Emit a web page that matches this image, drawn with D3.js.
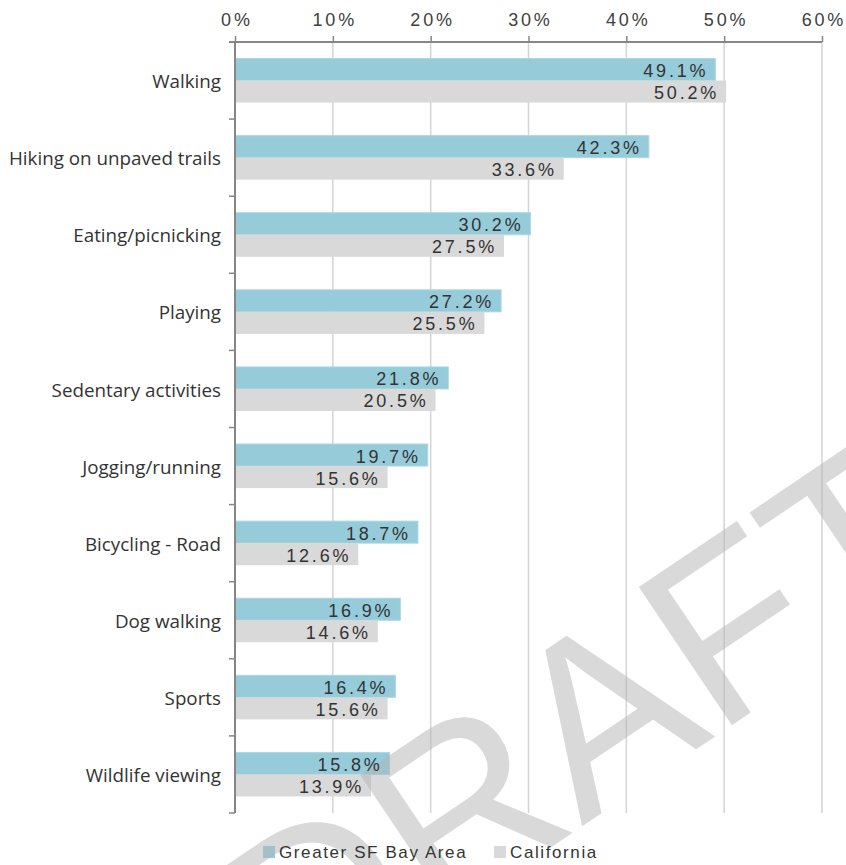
<!DOCTYPE html>
<meta charset="utf-8">
<head>
  <title>Park activities</title>
  <script src="https://cdn.jsdelivr.net/npm/d3@7"></script>
  <style>
    body { margin: 0; background: #fff; }
    .cat { font-family: "Open Sans", sans-serif; font-size: 18.8px; fill: #333; }
    .num { font-family: "Liberation Sans", sans-serif; font-size: 18px; fill: #333; letter-spacing: 2.8px; }
    .leg { font-family: "Liberation Sans", sans-serif; font-size: 17px; fill: #333; letter-spacing: 1.6px; }
  </style>
</head>
<body>
<div id="chart"></div>
<script>
  // data
  var activities = ["Walking", "Hiking on unpaved trails", "Eating/picnicking", "Playing",
    "Sedentary activities", "Jogging/running", "Bicycling - Road", "Dog walking", "Sports", "Wildlife viewing"];
  var bayArea = [49.1, 42.3, 30.2, 27.2, 21.8, 19.7, 18.7, 16.9, 16.4, 15.8];
  var california = [50.2, 33.6, 27.5, 25.5, 20.5, 15.6, 12.6, 14.6, 15.6, 13.9];
  var seriesNames = ["Greater SF Bay Area", "California"];
  var tickValues = [0, 10, 20, 30, 40, 50, 60];

  var W = 846, H = 865;
  var m = {left: 235, right: 822, top: 42, bottom: 813};

  var svg = d3.select("#chart").append("svg")
    .attr("width", W).attr("height", H);

  var x = d3.scaleLinear().domain([0, 60]).range([m.left, m.right]);
  var y = d3.scaleBand().domain(activities).range([m.top, m.bottom]).padding(0);
  var ySub = d3.scaleBand().domain([0, 1]).range([0, y.bandwidth()])
    .paddingInner(0).paddingOuter(0.75);
  var colors = ["#96cbda", "#d9d9d9"];

  var rows = activities.map((a, i) => ({ name: a, vals: [bayArea[i], california[i]] }));
  var pairs = d => d.vals.map((v, k) => ({ v: v, k: k }));

  // gridlines
  svg.append("g").selectAll("line")
    .data(tickValues.slice(1))
    .enter().append("line")
    .attr("x1", d => x(d)).attr("x2", d => x(d))
    .attr("y1", m.top).attr("y2", m.bottom)
    .attr("stroke", "#d4d4d4").attr("stroke-width", 1.5);

  // bars
  svg.append("g").selectAll("g")
    .data(rows).enter().append("g")
    .attr("transform", d => "translate(0," + y(d.name) + ")")
    .selectAll("rect")
    .data(pairs)
    .enter().append("rect")
    .attr("x", x(0))
    .attr("y", d => ySub(d.k))
    .attr("width", d => x(d.v) - x(0))
    .attr("height", ySub.bandwidth())
    .attr("fill", d => colors[d.k])
    .attr("stroke", d => d.k == 0 ? "#aad8e5" : "none")
    .attr("stroke-width", 1);

  // legend swatches
  var legend = svg.append("g").attr("transform", "translate(263,846)");
  var legX = [0, 231];
  legend.selectAll("rect").data(seriesNames).enter().append("rect")
    .attr("x", (d, i) => legX[i]).attr("y", 0).attr("width", 12).attr("height", 12)
    .attr("fill", (d, i) => colors[i]);

  // watermark (semi-transparent, above bars, below labels)
  svg.append("text")
    .attr("transform", "translate(292,1022) rotate(-34)")
    .style("font-family", "Liberation Sans, sans-serif")
    .style("font-size", "242px")
    .style("fill", "#b4b4b4")
    .style("fill-opacity", 0.5)
    .text("DRAFT");

  // value labels
  svg.append("g").selectAll("g")
    .data(rows).enter().append("g")
    .attr("transform", d => "translate(0," + y(d.name) + ")")
    .selectAll("text")
    .data(pairs)
    .enter().append("text")
    .attr("class", "num")
    .attr("x", d => x(d.v) - 7)
    .attr("y", d => ySub(d.k) + ySub.bandwidth() / 2 + 1)
    .attr("dy", "0.36em")
    .attr("text-anchor", "end")
    .text(d => d.v.toFixed(1) + "%");

  // legend text
  var legText = svg.append("g").attr("transform", "translate(263,846)");
  legText.selectAll("text").data(seriesNames).enter().append("text")
    .attr("class", "leg").attr("x", (d, i) => legX[i] + 16).attr("y", 6)
    .attr("dy", "0.36em").text(d => d);

  // top axis
  var xAxis = d3.axisTop(x).tickValues(tickValues).tickSize(6).tickFormat(d => d + "%");
  var gx = svg.append("g").attr("transform", "translate(0," + m.top + ")").call(xAxis);
  gx.select(".domain").attr("d", "M" + (m.left - 6) + ",0H" + m.right).attr("stroke", "#868686").attr("stroke-width", 2);
  gx.selectAll(".tick line").attr("stroke", "#868686").attr("stroke-width", 1.5);
  gx.selectAll(".tick text").attr("class", "num").attr("y", -16).attr("dx", "1.4px").style("fill", "#404040");

  // left axis
  var bounds = activities.map(a => y(a)).concat([m.bottom]);
  svg.append("line")
    .attr("x1", m.left).attr("x2", m.left).attr("y1", m.top).attr("y2", m.bottom)
    .attr("stroke", "#868686").attr("stroke-width", 2);
  svg.append("g").selectAll("line")
    .data(bounds.slice(1)).enter().append("line")
    .attr("x1", m.left - 6).attr("x2", m.left).attr("y1", d => d).attr("y2", d => d)
    .attr("stroke", "#868686").attr("stroke-width", 1.5);

  svg.append("g").selectAll("text")
    .data(activities).enter().append("text")
    .attr("class", "cat")
    .attr("x", m.left - 14)
    .attr("y", d => y(d) + y.bandwidth() / 2 + 1)
    .attr("dy", "0.35em")
    .attr("text-anchor", "end")
    .text(d => d);
</script>
</body>
